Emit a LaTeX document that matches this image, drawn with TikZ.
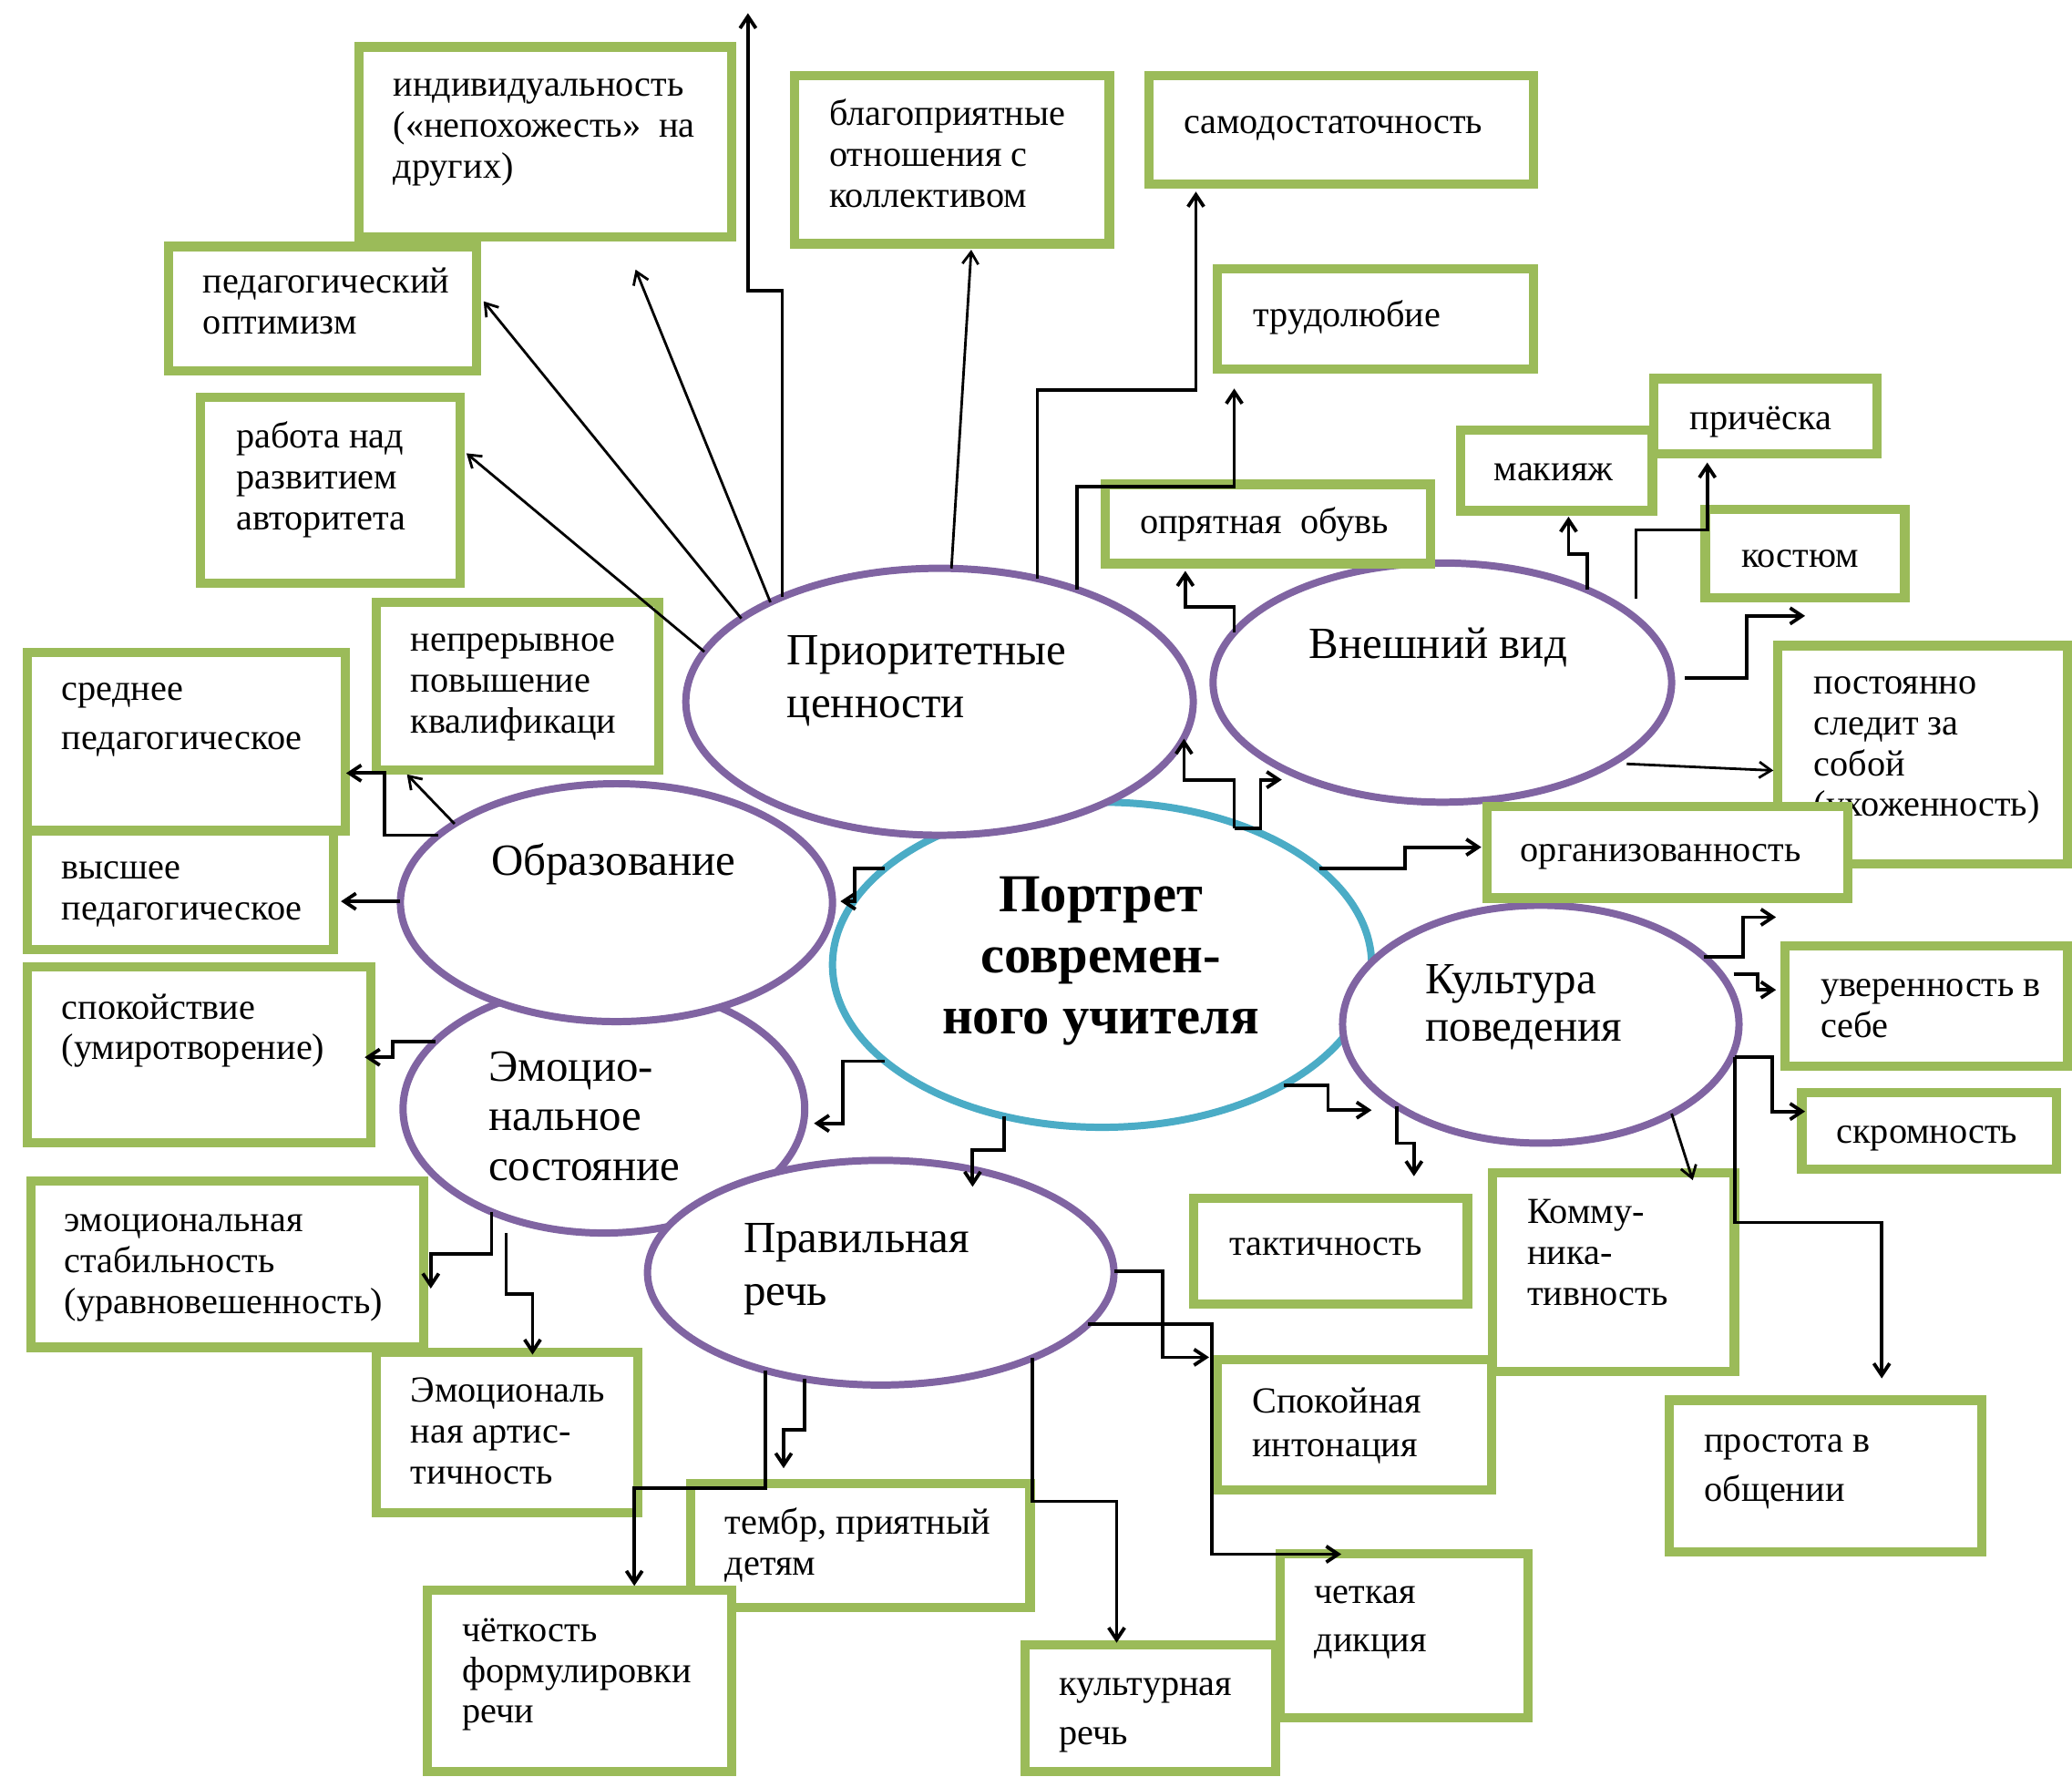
\documentclass[tikz,border=0pt]{standalone}
\usepackage{fontspec}
\setmainfont{Liberation Serif}
\usetikzlibrary{arrows.meta,shapes.geometric}
\definecolor{gr}{HTML}{9BBB59}
\definecolor{pu}{HTML}{8064A2}
\definecolor{cy}{HTML}{4BACC6}
\pgfmathdeclarefunction{eyt}{5}{\pgfmathparse{#2-#4*sqrt(1-((#5-#1)/#3)*((#5-#1)/#3))}}
\pgfmathdeclarefunction{eyb}{5}{\pgfmathparse{#2+#4*sqrt(1-((#5-#1)/#3)*((#5-#1)/#3))}}
\pgfmathdeclarefunction{exr}{5}{\pgfmathparse{#1+#3*sqrt(1-((#5-#2)/#4)*((#5-#2)/#4))}}
\pgfmathdeclarefunction{exl}{5}{\pgfmathparse{#1-#3*sqrt(1-((#5-#2)/#4)*((#5-#2)/#4))}}
\newcommand\greenbox[5]{\node[gbox, minimum width={(#4-#2-7)*0.1mm}, minimum height={(#5-#3-7)*0.1mm}] (#1) at ({(#2+#4)/2},{(#3+#5)/2}) {};}
\newcommand\boxtext[4]{\node[btext] (#1) at (#2,#3) {\begin{tabular}[t]{@{}l@{}}#4\end{tabular}};}
\newcommand\elltext[4]{\node[etext] (#1) at (#2,#3) {\begin{tabular}[t]{@{}l@{}}#4\end{tabular}};}
\tikzset{
 gbox/.style={rectangle, draw=gr, line width=0.7mm, fill=white, inner sep=0pt, outer sep=0pt},
 btext/.style={anchor=base west, inner sep=0pt, yshift=-0.4mm, font=\fontsize{7.9}{8.8}\selectfont},
 etext/.style={anchor=base west, inner sep=0pt, yshift=-0.4mm, font=\fontsize{9.6}{11.4}\selectfont},
 pell/.style={ellipse, draw=pu, line width=0.55mm, fill=white, inner sep=0pt, outer sep=0pt},
 cell/.style={ellipse, draw=cy, line width=0.55mm, fill=white, inner sep=0pt, outer sep=0pt},
 conn/.style={line width=0.55pt, -{Straight Barb[length=0.9mm,width=1.2mm]}},
 oconn/.style={line width=0.75pt, -{Straight Barb[length=0.9mm,width=1.2mm]}},
}
\begin{document}
\begin{tikzpicture}[x=0.1mm,y=-0.1mm]
\useasboundingbox (0,0) rectangle (1568,1344);
% ---------- ellipses
\node[cell, minimum width=40.8mm, minimum height=24.6mm] (eD) at (834,730) {};
\node[pell, minimum width=38.4mm, minimum height=20.2mm] (eA) at (711,531) {};
\node[pell, minimum width=34.7mm, minimum height=18.1mm] (eB) at (1091.5,516.5) {};
\node[pell, minimum width=30.4mm, minimum height=18.8mm] (eF) at (457,839) {};
\node[pell, minimum width=32.7mm, minimum height=18mm] (eC) at (466.5,683) {};
\node[pell, minimum width=30mm, minimum height=18mm] (eE) at (1166,775) {};
\node[pell, minimum width=35.3mm, minimum height=17mm] (eG) at (666.5,963) {};
% ---------- ellipse labels
\elltext{lA}{595}{499}{Приоритетные\\ценности}
\elltext{lB}{990}{494}{Внешний вид}
\elltext{lC}{371}{658}{Образование}
\elltext{lE}{1078}{748}{Культура\\[-0.4mm]поведения}
\elltext{lF}{369}{814}{Эмоцио-\\[-0.25mm]нальное\\[-0.25mm]состояние}
\elltext{lG}{562}{944}{Правильная\\речь}
\node[anchor=base, inner sep=0pt, yshift=-0.4mm, font=\fontsize{11.5}{13.1}\selectfont\bfseries] (lD) at (833,686) {\begin{tabular}[t]{@{}c@{}}Портрет\\современ-\\ного учителя\end{tabular}};
% ---------- boxes
\greenbox{b1}{268}{32}{557}{183}
\boxtext{t1}{297}{69}{индивидуальность\\(«непохожесть»\ \ на\\других)}
\greenbox{b2}{598}{54}{843}{188}
\boxtext{t2}{627}{91}{благоприятные\\отношения с\\коллективом}
\greenbox{b3}{866}{54}{1164}{143}
\boxtext{t3}{895}{97}{самодостаточность}
\greenbox{b4}{124}{183}{364}{284}
\boxtext{t4}{153}{218}{педагогический\\оптимизм}
\greenbox{b5}{918}{200}{1164}{283}
\boxtext{t5}{948}{243}{трудолюбие}
\greenbox{b6}{148}{297}{352}{445}
\boxtext{t6}{178}{335}{работа над\\развитием\\авторитета}
\greenbox{b7}{833}{363}{1086}{430}
\boxtext{t7}{862}{400}{опрятная\ \ обувь}
\greenbox{b8}{1102}{322}{1254}{390}
\boxtext{t8}{1130}{360}{макияж}
\greenbox{b9}{1248}{283}{1424}{347}
\boxtext{t9}{1278}{321}{причёска}
\greenbox{b10}{1287}{382}{1445}{456}
\boxtext{t10}{1317}{425}{костюм}
\greenbox{b11}{281}{452}{502}{586}
\boxtext{t11}{310}{489}{непрерывное\\повышение\\квалификаци}
\greenbox{b12}{17}{490}{265}{632}
\boxtext{t12}{46}{526}{среднее\\[0.6mm]педагогическое}
\greenbox{b13}{1342}{485}{1568}{657}
\boxtext{t13}{1372}{521}{постоянно\\следит за\\собой\\(ухоженность)}
\greenbox{b14}{1122}{607}{1402}{683}
\boxtext{t14}{1150}{648}{организованность}
\greenbox{b15}{17}{625}{256}{722}
\boxtext{t15}{46}{661}{высшее\\педагогическое}
\greenbox{b16}{17}{728}{284}{868}
\boxtext{t16}{46}{767}{спокойствие\\(умиротворение)}
\greenbox{b17}{1347}{712}{1568}{810}
\boxtext{t17}{1377}{750}{уверенность в\\себе}
\greenbox{b18}{1360}{823}{1560}{888}
\boxtext{t18}{1389}{861}{скромность}
\greenbox{b19}{900}{903}{1114}{990}
\boxtext{t19}{930}{946}{тактичность}
\greenbox{b20}{1126}{884}{1316}{1041}
\boxtext{t20}{1155}{922}{Комму-\\ника-\\тивность}
\greenbox{b21}{20}{890}{324}{1023}
\boxtext{t21}{48}{928}{эмоциональная\\стабильность\\(уравновешенность)}
\greenbox{b22}{281}{1020}{486}{1148}
\boxtext{t22}{310}{1057}{Эмоциональ\\ная артис-\\тичность}
\greenbox{b23}{918}{1025}{1132}{1131}
\boxtext{t23}{947}{1065}{Спокойная\\[0.2mm]интонация}
\greenbox{b24}{1260}{1056}{1503}{1178}
\boxtext{t24}{1289}{1095}{простота в\\[0.6mm]общении}
\greenbox{b25}{519}{1119}{783}{1220}
\boxtext{t25}{548}{1157}{тембр, приятный\\детям}
\greenbox{b26}{320}{1200}{557}{1344}
\boxtext{t26}{349}{1238}{чёткость\\формулировки\\речи}
\greenbox{b27}{965}{1172}{1160}{1303}
\boxtext{t27}{994}{1209}{четкая\\[0.6mm]дикция}
\greenbox{b28}{772}{1241}{969}{1344}
\boxtext{t28}{801}{1279}{культурная\\[0.6mm]речь}
% ---------- connector end points
% A
\coordinate (a1s) at (561,{eyt(711,531,192,101,561)}); \coordinate (a1e) at (366,228);
\coordinate (a2s) at (583,{eyt(711,531,192,101,583)}); \coordinate (a2e) at (481,204);
\coordinate (a3s) at (533,{eyt(711,531,192,101,533)}); \coordinate (a3e) at (353,343);
\coordinate (a4s) at (720,{eyt(711,531,192,101,720)}); \coordinate (a4e) at (735,189);
\coordinate (a5s) at (592,{eyt(711,531,192,101,592)}); \coordinate (a5e) at (566,10);
\coordinate (a6s) at (785,{eyt(711,531,192,101,785)}); \coordinate (a6e) at (905,145);
\coordinate (a7s) at (815,{eyt(711,531,192,101,815)}); \coordinate (a7e) at (934,294);
% B
\coordinate (b1s) at (934,{eyt(1091.5,516.5,173.5,90.5,934)}); \coordinate (b1e) at (897,432);
\coordinate (b2s) at (1201,{eyt(1091.5,516.5,173.5,90.5,1201)}); \coordinate (b2e) at (1187,391);
\coordinate (b3s) at (1238,453); \coordinate (b3e) at (1292,350);
\coordinate (b4s) at (1275,513); \coordinate (b4e) at (1366,466);
\coordinate (b5s) at (1231,578); \coordinate (b5e) at (1342,583);
% D
\coordinate (d1s) at (934,627); \coordinate (d1e) at (896,559); \coordinate (d1f) at (970,590);
\coordinate (d2s) at ({exr(834,730,204,123,657)},657); \coordinate (d2e) at (1121,641);
\coordinate (d3s) at ({exl(834,730,204,123,657)},657); \coordinate (d3e) at (636,682);
\coordinate (d4s) at ({exl(834,730,204,123,803)},803); \coordinate (d4e) at (616,850);
\coordinate (d5s) at (760,{eyb(834,730,204,123,760)}); \coordinate (d5e) at (736,898);
\coordinate (d6s) at ({exr(834,730,204,123,821)},821); \coordinate (d6e) at (1038,840);
% E
\coordinate (e1s) at (1057,{eyb(1166,775,150,90,1057)}); \coordinate (e1e) at (1070,890);
\coordinate (e2s) at (1265,{eyb(1166,775,150,90,1265)}); \coordinate (e2e) at (1281,893);
\coordinate (e3s) at ({exr(1166,775,150,90,724)},724); \coordinate (e3e) at (1344,694);
\coordinate (e4s) at (1312,737); \coordinate (e4e) at (1344,749);
\coordinate (e5s) at (1313,800); \coordinate (e5e) at (1366,841);
\coordinate (e6e) at (1424,1043);
% F
\coordinate (f1s) at ({exl(457,839,152,94,788)},788); \coordinate (f1e) at (276,800);
\coordinate (f2s) at (372,{eyb(457,839,152,94,372)}); \coordinate (f2e) at (326,975);
\coordinate (f3s) at (383,933); \coordinate (f3e) at (403,1025);
% C
\coordinate (c1s) at ({exl(466.5,683,163.5,90,682)},682); \coordinate (c1e) at (258,682);
\coordinate (c2s) at ({exl(466.5,683,163.5,90,632)},632); \coordinate (c2e) at (262,585);
\coordinate (c3s) at (344,{eyt(466.5,683,163.5,90,344)}); \coordinate (c3e) at (308,586);
% G
\coordinate (g1s) at ({exr(666.5,963,176.5,85,962)},962); \coordinate (g1e) at (915,1027);
\coordinate (g2s) at ({exr(666.5,963,176.5,85,1002)},1002); \coordinate (g2e) at (1015,1176);
\coordinate (g3s) at (781,{eyb(666.5,963,176.5,85,781)}); \coordinate (g3e) at (845,1243);
\coordinate (g4s) at (609,{eyb(666.5,963,176.5,85,609)}); \coordinate (g4e) at (593,1111);
\coordinate (g5s) at (579,{eyb(666.5,963,176.5,85,579)}); \coordinate (g5e) at (480,1200);
% ---------- connectors
\draw[conn] (a1s) -- (a1e);
\draw[conn] (a2s) -- (a2e);
\draw[conn] (a3s) -- (a3e);
\draw[conn] (a4s) -- (a4e);
\draw[oconn] (a5s) |- (566,220) -- (a5e);
\draw[oconn] (a6s) |- (905,295) -- (a6e);
\draw[oconn] (a7s) |- (934,368) -- (a7e);
\draw[oconn] (b1s) |- (897,459) -- (b1e);
\draw[oconn] (b2s) |- (1187,419) -- (b2e);
\draw[oconn] (b3s) |- (1292,401) -- (b3e);
\draw[oconn] (b4s) -| (1322,466) -- (b4e);
\draw[conn] (b5s) -- (b5e);
\draw[oconn] (d1s) |- (896,590) -- (d1e);
\draw[oconn] (d1s) -- ++(20,0) |- (d1f);
\draw[oconn] (d2s) -| (1063,641) -- (d2e);
\draw[oconn] (d3s) -| (647,682) -- (d3e);
\draw[oconn] (d4s) -| (638,850) -- (d4e);
\draw[oconn] (d5s) |- (736,870) -- (d5e);
\draw[oconn] (d6s) -| (1005,840) -- (d6e);
\draw[oconn] (e1s) |- (1070,865) -- (e1e);
\draw[conn] (e2s) -- (e2e);
\draw[oconn] (e3s) -| (1319,694) -- (e3e);
\draw[oconn] (e4s) -| (1330,749) -- (e4e);
\draw[oconn] (e5s) -| (1341,841) -- (e5e);
\draw[oconn] (e5s) |- (1424,925) -- (e6e);
\draw[oconn] (f1s) -| (297,800) -- (f1e);
\draw[oconn] (f2s) |- (326,949) -- (f2e);
\draw[oconn] (f3s) |- (403,979) -- (f3e);
\draw[oconn] (c1s) -- (c1e);
\draw[oconn] (c2s) -| (291,585) -- (c2e);
\draw[conn] (c3s) -- (c3e);
\draw[oconn] (g1s) -| (880,1027) -- (g1e);
\draw[oconn] (g2s) -| (917,1176) -- (g2e);
\draw[oconn] (g3s) |- (845,1136) -- (g3e);
\draw[oconn] (g4s) |- (593,1082) -- (g4e);
\draw[oconn] (g5s) |- (480,1126) -- (g5e);
\end{tikzpicture}
\end{document}
